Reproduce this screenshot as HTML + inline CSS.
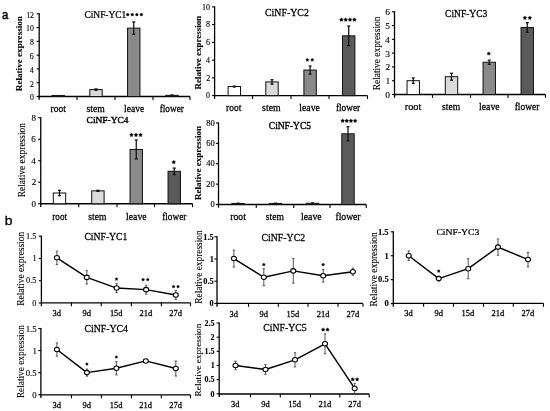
<!DOCTYPE html>
<html><head><meta charset="utf-8"><style>
html,body{margin:0;padding:0;background:#fff;width:550px;height:411px;overflow:hidden}
svg{display:block;font-family:"Liberation Serif",serif;will-change:transform}
</style></head><body>
<svg width="550" height="411" viewBox="0 0 550 411">
<rect width="550" height="411" fill="#fff"/>
<line x1="39.2" y1="13.2" x2="39.2" y2="99.7" stroke="#000" stroke-width="1.3"/>
<line x1="36.6" y1="96.5" x2="39.2" y2="96.5" stroke="#000" stroke-width="1.1"/>
<text font-family="Liberation Serif" font-weight="normal" font-size="100" fill="#000" stroke="#000" stroke-width="1.58" transform="matrix(0.07800,0.00000,0.00000,0.07400,29.91,100.23)">0</text>
<line x1="36.6" y1="82.72" x2="39.2" y2="82.72" stroke="#000" stroke-width="1.1"/>
<text font-family="Liberation Serif" font-weight="normal" font-size="100" fill="#000" stroke="#000" stroke-width="1.58" transform="matrix(0.07800,0.00000,0.00000,0.07400,30.07,86.52)">2</text>
<line x1="36.6" y1="68.93" x2="39.2" y2="68.93" stroke="#000" stroke-width="1.1"/>
<text font-family="Liberation Serif" font-weight="normal" font-size="100" fill="#000" stroke="#000" stroke-width="1.58" transform="matrix(0.07800,0.00000,0.00000,0.07400,29.76,72.74)">4</text>
<line x1="36.6" y1="55.15" x2="39.2" y2="55.15" stroke="#000" stroke-width="1.1"/>
<text font-family="Liberation Serif" font-weight="normal" font-size="100" fill="#000" stroke="#000" stroke-width="1.58" transform="matrix(0.07800,0.00000,0.00000,0.07400,29.83,58.88)">6</text>
<line x1="36.6" y1="41.37" x2="39.2" y2="41.37" stroke="#000" stroke-width="1.1"/>
<text font-family="Liberation Serif" font-weight="normal" font-size="100" fill="#000" stroke="#000" stroke-width="1.58" transform="matrix(0.07800,0.00000,0.00000,0.07400,29.91,45.1)">8</text>
<line x1="36.6" y1="27.58" x2="39.2" y2="27.58" stroke="#000" stroke-width="1.1"/>
<text font-family="Liberation Serif" font-weight="normal" font-size="100" fill="#000" stroke="#000" stroke-width="1.58" transform="matrix(0.07800,0.00000,0.00000,0.07400,26.01,31.35)">10</text>
<line x1="36.6" y1="13.8" x2="39.2" y2="13.8" stroke="#000" stroke-width="1.1"/>
<text font-family="Liberation Serif" font-weight="normal" font-size="100" fill="#000" stroke="#000" stroke-width="1.58" transform="matrix(0.07800,0.00000,0.00000,0.07400,26.17,17.64)">12</text>
<line x1="38.6" y1="96.5" x2="190" y2="96.5" stroke="#000" stroke-width="1.3"/>
<line x1="77" y1="96.5" x2="77" y2="99.9" stroke="#000" stroke-width="1.1"/>
<line x1="115" y1="96.5" x2="115" y2="99.9" stroke="#000" stroke-width="1.1"/>
<line x1="153" y1="96.5" x2="153" y2="99.9" stroke="#000" stroke-width="1.1"/>
<line x1="190" y1="96.5" x2="190" y2="99.9" stroke="#000" stroke-width="1.1"/>
<rect x="52" y="95.47" width="12.4" height="1.03" fill="#ffffff" stroke="#111" stroke-width="1"/>
<rect x="89.8" y="89.61" width="12.4" height="6.89" fill="#dadada" stroke="#111" stroke-width="1"/>
<line x1="96" y1="88.92" x2="96" y2="90.3" stroke="#111" stroke-width="1.25"/>
<line x1="94.5" y1="88.92" x2="97.5" y2="88.92" stroke="#111" stroke-width="1.25"/>
<line x1="94.5" y1="90.3" x2="97.5" y2="90.3" stroke="#111" stroke-width="1.25"/>
<rect x="127.55" y="28.13" width="12.4" height="68.37" fill="#8a8a8a" stroke="#111" stroke-width="1"/>
<line x1="133.75" y1="21.93" x2="133.75" y2="34.34" stroke="#111" stroke-width="1.25"/>
<line x1="132.25" y1="21.93" x2="135.25" y2="21.93" stroke="#111" stroke-width="1.25"/>
<line x1="132.25" y1="34.34" x2="135.25" y2="34.34" stroke="#111" stroke-width="1.25"/>
<rect x="165.8" y="95.33" width="12.4" height="1.17" fill="#5a5a5a" stroke="#111" stroke-width="1"/>
<line x1="172" y1="94.98" x2="172" y2="95.67" stroke="#111" stroke-width="1.25"/>
<line x1="170.5" y1="94.98" x2="173.5" y2="94.98" stroke="#111" stroke-width="1.25"/>
<line x1="170.5" y1="95.67" x2="173.5" y2="95.67" stroke="#111" stroke-width="1.25"/>
<text font-family="Liberation Serif" font-weight="normal" font-size="100" fill="#000" stroke="#000" stroke-width="2.65" transform="matrix(0.09447,0.00000,0.00000,0.09412,84.42,17.81)">CiNF-YC1</text>
<text font-family="Liberation Serif" font-weight="normal" font-size="100" fill="#000" stroke="#000" stroke-width="2.56" transform="matrix(0.09494,0.00000,0.00000,0.10000,50.51,111.8)">root</text>
<text font-family="Liberation Serif" font-weight="normal" font-size="100" fill="#000" stroke="#000" stroke-width="2.54" transform="matrix(0.09672,0.00000,0.00000,0.10000,86.61,111.8)">stem</text>
<text font-family="Liberation Serif" font-weight="normal" font-size="100" fill="#000" stroke="#000" stroke-width="2.56" transform="matrix(0.09512,0.00000,0.00000,0.10000,124.06,111.8)">leave</text>
<text font-family="Liberation Serif" font-weight="normal" font-size="100" fill="#000" stroke="#000" stroke-width="2.60" transform="matrix(0.09241,0.00000,0.00000,0.10000,159.72,111.8)">flower</text>
<text font-family="Liberation Serif" font-weight="bold" font-size="100" fill="#000" stroke="#000" stroke-width="1.09" transform="matrix(0,-0.09146,0.09146,0,21.8,91.18)">Relative expression</text>
<polygon points="127.71,12.95 128.31,13.82 129.33,14.12 128.69,14.97 128.71,16.03 127.71,15.67 126.72,16.03 126.74,14.97 126.1,14.12 127.12,13.82" fill="#000" stroke="#000" stroke-width="0.3" stroke-linejoin="round"/>
<polygon points="132.27,12.95 132.87,13.82 133.89,14.12 133.24,14.97 133.27,16.03 132.27,15.67 131.27,16.03 131.3,14.97 130.65,14.12 131.67,13.82" fill="#000" stroke="#000" stroke-width="0.3" stroke-linejoin="round"/>
<polygon points="136.83,12.95 137.43,13.82 138.45,14.12 137.8,14.97 137.83,16.03 136.83,15.67 135.83,16.03 135.86,14.97 135.21,14.12 136.23,13.82" fill="#000" stroke="#000" stroke-width="0.3" stroke-linejoin="round"/>
<polygon points="141.38,12.95 141.98,13.82 143,14.12 142.36,14.97 142.38,16.03 141.38,15.67 140.39,16.03 140.41,14.97 139.77,14.12 140.79,13.82" fill="#000" stroke="#000" stroke-width="0.3" stroke-linejoin="round"/>
<line x1="214.6" y1="6.3" x2="214.6" y2="98.8" stroke="#000" stroke-width="1.3"/>
<line x1="212" y1="95.6" x2="214.6" y2="95.6" stroke="#000" stroke-width="1.1"/>
<text font-family="Liberation Serif" font-weight="normal" font-size="100" fill="#000" stroke="#000" stroke-width="1.58" transform="matrix(0.08000,0.00000,0.00000,0.07200,206.12,98.27)">0</text>
<line x1="212" y1="77.86" x2="214.6" y2="77.86" stroke="#000" stroke-width="1.1"/>
<text font-family="Liberation Serif" font-weight="normal" font-size="100" fill="#000" stroke="#000" stroke-width="1.58" transform="matrix(0.08000,0.00000,0.00000,0.07200,206.28,80.6)">2</text>
<line x1="212" y1="60.12" x2="214.6" y2="60.12" stroke="#000" stroke-width="1.1"/>
<text font-family="Liberation Serif" font-weight="normal" font-size="100" fill="#000" stroke="#000" stroke-width="1.58" transform="matrix(0.08000,0.00000,0.00000,0.07200,205.96,62.86)">4</text>
<line x1="212" y1="42.38" x2="214.6" y2="42.38" stroke="#000" stroke-width="1.1"/>
<text font-family="Liberation Serif" font-weight="normal" font-size="100" fill="#000" stroke="#000" stroke-width="1.58" transform="matrix(0.08000,0.00000,0.00000,0.07200,206.04,45.05)">6</text>
<line x1="212" y1="24.64" x2="214.6" y2="24.64" stroke="#000" stroke-width="1.1"/>
<text font-family="Liberation Serif" font-weight="normal" font-size="100" fill="#000" stroke="#000" stroke-width="1.58" transform="matrix(0.08000,0.00000,0.00000,0.07200,206.12,27.31)">8</text>
<line x1="212" y1="6.9" x2="214.6" y2="6.9" stroke="#000" stroke-width="1.1"/>
<text font-family="Liberation Serif" font-weight="normal" font-size="100" fill="#000" stroke="#000" stroke-width="1.58" transform="matrix(0.08000,0.00000,0.00000,0.07200,202.12,9.6)">10</text>
<line x1="214" y1="95.6" x2="367.5" y2="95.6" stroke="#000" stroke-width="1.3"/>
<line x1="252.6" y1="95.6" x2="252.6" y2="99" stroke="#000" stroke-width="1.1"/>
<line x1="291" y1="95.6" x2="291" y2="99" stroke="#000" stroke-width="1.1"/>
<line x1="329" y1="95.6" x2="329" y2="99" stroke="#000" stroke-width="1.1"/>
<line x1="367.5" y1="95.6" x2="367.5" y2="99" stroke="#000" stroke-width="1.1"/>
<rect x="228.1" y="86.55" width="12.4" height="9.05" fill="#ffffff" stroke="#111" stroke-width="1"/>
<line x1="234.3" y1="86.11" x2="234.3" y2="87" stroke="#111" stroke-width="1.25"/>
<line x1="232.8" y1="86.11" x2="235.8" y2="86.11" stroke="#111" stroke-width="1.25"/>
<line x1="232.8" y1="87" x2="235.8" y2="87" stroke="#111" stroke-width="1.25"/>
<rect x="265.8" y="81.94" width="12.4" height="13.66" fill="#dadada" stroke="#111" stroke-width="1"/>
<line x1="272" y1="79.72" x2="272" y2="84.16" stroke="#111" stroke-width="1.25"/>
<line x1="270.5" y1="79.72" x2="273.5" y2="79.72" stroke="#111" stroke-width="1.25"/>
<line x1="270.5" y1="84.16" x2="273.5" y2="84.16" stroke="#111" stroke-width="1.25"/>
<rect x="303.9" y="70.05" width="12.4" height="25.55" fill="#8a8a8a" stroke="#111" stroke-width="1"/>
<line x1="310.1" y1="66.06" x2="310.1" y2="74.05" stroke="#111" stroke-width="1.25"/>
<line x1="308.6" y1="66.06" x2="311.6" y2="66.06" stroke="#111" stroke-width="1.25"/>
<line x1="308.6" y1="74.05" x2="311.6" y2="74.05" stroke="#111" stroke-width="1.25"/>
<rect x="342.5" y="35.82" width="12.4" height="59.78" fill="#5a5a5a" stroke="#111" stroke-width="1"/>
<line x1="348.7" y1="26.06" x2="348.7" y2="45.57" stroke="#111" stroke-width="1.25"/>
<line x1="347.2" y1="26.06" x2="350.2" y2="26.06" stroke="#111" stroke-width="1.25"/>
<line x1="347.2" y1="45.57" x2="350.2" y2="45.57" stroke="#111" stroke-width="1.25"/>
<text font-family="Liberation Serif" font-weight="normal" font-size="100" fill="#000" stroke="#000" stroke-width="2.50" transform="matrix(0.09885,0.00000,0.00000,0.10149,265,16)">CiNF-YC2</text>
<text font-family="Liberation Serif" font-weight="normal" font-size="100" fill="#000" stroke="#000" stroke-width="2.56" transform="matrix(0.09494,0.00000,0.00000,0.10000,226.06,111.2)">root</text>
<text font-family="Liberation Serif" font-weight="normal" font-size="100" fill="#000" stroke="#000" stroke-width="2.52" transform="matrix(0.09836,0.00000,0.00000,0.10000,262.11,111.2)">stem</text>
<text font-family="Liberation Serif" font-weight="normal" font-size="100" fill="#000" stroke="#000" stroke-width="2.53" transform="matrix(0.09756,0.00000,0.00000,0.10000,299.3,111.2)">leave</text>
<text font-family="Liberation Serif" font-weight="normal" font-size="100" fill="#000" stroke="#000" stroke-width="2.60" transform="matrix(0.09241,0.00000,0.00000,0.10000,335.97,111.2)">flower</text>
<text font-family="Liberation Serif" font-weight="bold" font-size="100" fill="#000" stroke="#000" stroke-width="1.12" transform="matrix(0,-0.08939,0.08939,0,200.8,89.38)">Relative expression</text>
<polygon points="307.31,58.25 307.91,59.12 308.93,59.42 308.29,60.27 308.31,61.33 307.31,60.97 306.32,61.33 306.34,60.27 305.7,59.42 306.72,59.12" fill="#000" stroke="#000" stroke-width="0.3" stroke-linejoin="round"/>
<polygon points="312.28,58.25 312.88,59.12 313.9,59.42 313.26,60.27 313.28,61.33 312.28,60.97 311.29,61.33 311.31,60.27 310.67,59.42 311.69,59.12" fill="#000" stroke="#000" stroke-width="0.3" stroke-linejoin="round"/>
<polygon points="341.4,17.73 342.11,18.75 343.3,19.11 342.54,20.1 342.58,21.34 341.4,20.93 340.22,21.34 340.26,20.1 339.5,19.11 340.69,18.75" fill="#000" stroke="#000" stroke-width="0.3" stroke-linejoin="round"/>
<polygon points="345.72,17.73 346.42,18.75 347.62,19.11 346.86,20.1 346.89,21.34 345.72,20.93 344.54,21.34 344.58,20.1 343.81,19.11 345.01,18.75" fill="#000" stroke="#000" stroke-width="0.3" stroke-linejoin="round"/>
<polygon points="350.03,17.73 350.74,18.75 351.94,19.11 351.17,20.1 351.21,21.34 350.03,20.93 348.86,21.34 348.89,20.1 348.13,19.11 349.33,18.75" fill="#000" stroke="#000" stroke-width="0.3" stroke-linejoin="round"/>
<polygon points="354.35,17.73 355.06,18.75 356.25,19.11 355.49,20.1 355.53,21.34 354.35,20.93 353.17,21.34 353.21,20.1 352.45,19.11 353.64,18.75" fill="#000" stroke="#000" stroke-width="0.3" stroke-linejoin="round"/>
<line x1="394.5" y1="11.15" x2="394.5" y2="97.7" stroke="#000" stroke-width="1.3"/>
<line x1="391.9" y1="94.5" x2="394.5" y2="94.5" stroke="#000" stroke-width="1.1"/>
<text font-family="Liberation Serif" font-weight="normal" font-size="100" fill="#000" stroke="#000" stroke-width="1.44" transform="matrix(0.09500,0.00000,0.00000,0.07200,385.23,97.97)">0</text>
<line x1="391.9" y1="80.71" x2="394.5" y2="80.71" stroke="#000" stroke-width="1.1"/>
<text font-family="Liberation Serif" font-weight="normal" font-size="100" fill="#000" stroke="#000" stroke-width="1.44" transform="matrix(0.09500,0.00000,0.00000,0.07200,385.42,84.28)">1</text>
<line x1="391.9" y1="66.92" x2="394.5" y2="66.92" stroke="#000" stroke-width="1.1"/>
<text font-family="Liberation Serif" font-weight="normal" font-size="100" fill="#000" stroke="#000" stroke-width="1.44" transform="matrix(0.09500,0.00000,0.00000,0.07200,385.42,70.46)">2</text>
<line x1="391.9" y1="53.12" x2="394.5" y2="53.12" stroke="#000" stroke-width="1.1"/>
<text font-family="Liberation Serif" font-weight="normal" font-size="100" fill="#000" stroke="#000" stroke-width="1.44" transform="matrix(0.09500,0.00000,0.00000,0.07200,385.23,56.63)">3</text>
<line x1="391.9" y1="39.33" x2="394.5" y2="39.33" stroke="#000" stroke-width="1.1"/>
<text font-family="Liberation Serif" font-weight="normal" font-size="100" fill="#000" stroke="#000" stroke-width="1.44" transform="matrix(0.09500,0.00000,0.00000,0.07200,385.04,42.87)">4</text>
<line x1="391.9" y1="25.54" x2="394.5" y2="25.54" stroke="#000" stroke-width="1.1"/>
<text font-family="Liberation Serif" font-weight="normal" font-size="100" fill="#000" stroke="#000" stroke-width="1.44" transform="matrix(0.09500,0.00000,0.00000,0.07200,385.23,29.05)">5</text>
<line x1="391.9" y1="11.75" x2="394.5" y2="11.75" stroke="#000" stroke-width="1.1"/>
<text font-family="Liberation Serif" font-weight="normal" font-size="100" fill="#000" stroke="#000" stroke-width="1.44" transform="matrix(0.09500,0.00000,0.00000,0.07200,385.14,15.22)">6</text>
<line x1="393.9" y1="94.5" x2="545.5" y2="94.5" stroke="#000" stroke-width="1.3"/>
<line x1="432.5" y1="94.5" x2="432.5" y2="97.9" stroke="#000" stroke-width="1.1"/>
<line x1="470.5" y1="94.5" x2="470.5" y2="97.9" stroke="#000" stroke-width="1.1"/>
<line x1="508" y1="94.5" x2="508" y2="97.9" stroke="#000" stroke-width="1.1"/>
<line x1="545.5" y1="94.5" x2="545.5" y2="97.9" stroke="#000" stroke-width="1.1"/>
<rect x="407.05" y="80.71" width="12.4" height="13.79" fill="#ffffff" stroke="#111" stroke-width="1"/>
<line x1="413.25" y1="77.95" x2="413.25" y2="83.47" stroke="#111" stroke-width="1.25"/>
<line x1="411.75" y1="77.95" x2="414.75" y2="77.95" stroke="#111" stroke-width="1.25"/>
<line x1="411.75" y1="83.47" x2="414.75" y2="83.47" stroke="#111" stroke-width="1.25"/>
<rect x="445.3" y="76.71" width="12.4" height="17.79" fill="#dadada" stroke="#111" stroke-width="1"/>
<line x1="451.5" y1="73.26" x2="451.5" y2="80.16" stroke="#111" stroke-width="1.25"/>
<line x1="450" y1="73.26" x2="453" y2="73.26" stroke="#111" stroke-width="1.25"/>
<line x1="450" y1="80.16" x2="453" y2="80.16" stroke="#111" stroke-width="1.25"/>
<rect x="483.05" y="62.23" width="12.4" height="32.27" fill="#8a8a8a" stroke="#111" stroke-width="1"/>
<line x1="489.25" y1="60.16" x2="489.25" y2="64.3" stroke="#111" stroke-width="1.25"/>
<line x1="487.75" y1="60.16" x2="490.75" y2="60.16" stroke="#111" stroke-width="1.25"/>
<line x1="487.75" y1="64.3" x2="490.75" y2="64.3" stroke="#111" stroke-width="1.25"/>
<rect x="521.05" y="27.47" width="12.4" height="67.03" fill="#5a5a5a" stroke="#111" stroke-width="1"/>
<line x1="527.25" y1="22.65" x2="527.25" y2="32.3" stroke="#111" stroke-width="1.25"/>
<line x1="525.75" y1="22.65" x2="528.75" y2="22.65" stroke="#111" stroke-width="1.25"/>
<line x1="525.75" y1="32.3" x2="528.75" y2="32.3" stroke="#111" stroke-width="1.25"/>
<text font-family="Liberation Serif" font-weight="normal" font-size="100" fill="#000" stroke="#000" stroke-width="2.57" transform="matrix(0.09474,0.00000,0.00000,0.10000,445.12,16.7)">CiNF-YC3</text>
<text font-family="Liberation Serif" font-weight="normal" font-size="100" fill="#000" stroke="#000" stroke-width="2.46" transform="matrix(0.10285,0.00000,0.00000,0.10000,404.79,109.5)">root</text>
<text font-family="Liberation Serif" font-weight="normal" font-size="100" fill="#000" stroke="#000" stroke-width="2.56" transform="matrix(0.09563,0.00000,0.00000,0.10000,442.12,109.5)">stem</text>
<text font-family="Liberation Serif" font-weight="normal" font-size="100" fill="#000" stroke="#000" stroke-width="2.53" transform="matrix(0.09756,0.00000,0.00000,0.10000,479.05,109.5)">leave</text>
<text font-family="Liberation Serif" font-weight="normal" font-size="100" fill="#000" stroke="#000" stroke-width="2.57" transform="matrix(0.09436,0.00000,0.00000,0.10000,514.72,109.5)">flower</text>
<text font-family="Liberation Serif" font-weight="normal" font-size="100" fill="#000" stroke="#000" stroke-width="1.07" transform="matrix(0,-0.09385,0.09385,0,380,90.28)">Relative expression</text>
<polygon points="488.75,51.74 489.41,52.7 490.52,53.03 489.81,53.94 489.84,55.1 488.75,54.72 487.66,55.1 487.69,53.94 486.98,53.03 488.09,52.7" fill="#000" stroke="#000" stroke-width="0.3" stroke-linejoin="round"/>
<polygon points="524.9,15.85 525.61,16.88 526.8,17.23 526.04,18.22 526.08,19.47 524.9,19.05 523.72,19.47 523.76,18.22 523,17.23 524.19,16.88" fill="#000" stroke="#000" stroke-width="0.3" stroke-linejoin="round"/>
<polygon points="529.85,15.85 530.56,16.88 531.75,17.23 530.99,18.22 531.03,19.47 529.85,19.05 528.67,19.47 528.71,18.22 527.95,17.23 529.14,16.88" fill="#000" stroke="#000" stroke-width="0.3" stroke-linejoin="round"/>
<line x1="40.75" y1="117.15" x2="40.75" y2="206.95" stroke="#000" stroke-width="1.3"/>
<line x1="38.15" y1="203.75" x2="40.75" y2="203.75" stroke="#000" stroke-width="1.1"/>
<text font-family="Liberation Serif" font-weight="normal" font-size="100" fill="#000" stroke="#000" stroke-width="1.48" transform="matrix(0.09000,0.00000,0.00000,0.07200,31.46,206.72)">0</text>
<line x1="38.15" y1="182.25" x2="40.75" y2="182.25" stroke="#000" stroke-width="1.1"/>
<text font-family="Liberation Serif" font-weight="normal" font-size="100" fill="#000" stroke="#000" stroke-width="1.48" transform="matrix(0.09000,0.00000,0.00000,0.07200,31.64,185.29)">2</text>
<line x1="38.15" y1="160.75" x2="40.75" y2="160.75" stroke="#000" stroke-width="1.1"/>
<text font-family="Liberation Serif" font-weight="normal" font-size="100" fill="#000" stroke="#000" stroke-width="1.48" transform="matrix(0.09000,0.00000,0.00000,0.07200,31.28,163.79)">4</text>
<line x1="38.15" y1="139.25" x2="40.75" y2="139.25" stroke="#000" stroke-width="1.1"/>
<text font-family="Liberation Serif" font-weight="normal" font-size="100" fill="#000" stroke="#000" stroke-width="1.48" transform="matrix(0.09000,0.00000,0.00000,0.07200,31.37,142.22)">6</text>
<line x1="38.15" y1="117.75" x2="40.75" y2="117.75" stroke="#000" stroke-width="1.1"/>
<text font-family="Liberation Serif" font-weight="normal" font-size="100" fill="#000" stroke="#000" stroke-width="1.48" transform="matrix(0.09000,0.00000,0.00000,0.07200,31.46,120.72)">8</text>
<line x1="40.15" y1="203.75" x2="192.5" y2="203.75" stroke="#000" stroke-width="1.3"/>
<line x1="78.75" y1="203.75" x2="78.75" y2="207.15" stroke="#000" stroke-width="1.1"/>
<line x1="117" y1="203.75" x2="117" y2="207.15" stroke="#000" stroke-width="1.1"/>
<line x1="154.5" y1="203.75" x2="154.5" y2="207.15" stroke="#000" stroke-width="1.1"/>
<line x1="192.5" y1="203.75" x2="192.5" y2="207.15" stroke="#000" stroke-width="1.1"/>
<rect x="53.3" y="193" width="12.4" height="10.75" fill="#ffffff" stroke="#111" stroke-width="1"/>
<line x1="59.5" y1="190.31" x2="59.5" y2="195.69" stroke="#111" stroke-width="1.25"/>
<line x1="58" y1="190.31" x2="61" y2="190.31" stroke="#111" stroke-width="1.25"/>
<line x1="58" y1="195.69" x2="61" y2="195.69" stroke="#111" stroke-width="1.25"/>
<rect x="91.7" y="190.85" width="12.4" height="12.9" fill="#dadada" stroke="#111" stroke-width="1"/>
<line x1="97.9" y1="190.31" x2="97.9" y2="191.39" stroke="#111" stroke-width="1.25"/>
<line x1="96.4" y1="190.31" x2="99.4" y2="190.31" stroke="#111" stroke-width="1.25"/>
<line x1="96.4" y1="191.39" x2="99.4" y2="191.39" stroke="#111" stroke-width="1.25"/>
<rect x="130.05" y="149.46" width="12.4" height="54.29" fill="#8a8a8a" stroke="#111" stroke-width="1"/>
<line x1="136.25" y1="140" x2="136.25" y2="158.92" stroke="#111" stroke-width="1.25"/>
<line x1="134.75" y1="140" x2="137.75" y2="140" stroke="#111" stroke-width="1.25"/>
<line x1="134.75" y1="158.92" x2="137.75" y2="158.92" stroke="#111" stroke-width="1.25"/>
<rect x="168.05" y="171.28" width="12.4" height="32.47" fill="#5a5a5a" stroke="#111" stroke-width="1"/>
<line x1="174.25" y1="168.06" x2="174.25" y2="174.51" stroke="#111" stroke-width="1.25"/>
<line x1="172.75" y1="168.06" x2="175.75" y2="168.06" stroke="#111" stroke-width="1.25"/>
<line x1="172.75" y1="174.51" x2="175.75" y2="174.51" stroke="#111" stroke-width="1.25"/>
<text font-family="Liberation Serif" font-weight="normal" font-size="100" fill="#000" stroke="#000" stroke-width="4.31" transform="matrix(0.09453,0.00000,0.00000,0.09104,86.62,123.42)">CiNF-YC4</text>
<text font-family="Liberation Serif" font-weight="normal" font-size="100" fill="#000" stroke="#000" stroke-width="2.61" transform="matrix(0.09177,0.00000,0.00000,0.10000,52.32,220)">root</text>
<text font-family="Liberation Serif" font-weight="normal" font-size="100" fill="#000" stroke="#000" stroke-width="2.56" transform="matrix(0.09563,0.00000,0.00000,0.10000,88.37,220)">stem</text>
<text font-family="Liberation Serif" font-weight="normal" font-size="100" fill="#000" stroke="#000" stroke-width="2.53" transform="matrix(0.09756,0.00000,0.00000,0.10000,126.05,220)">leave</text>
<text font-family="Liberation Serif" font-weight="normal" font-size="100" fill="#000" stroke="#000" stroke-width="2.60" transform="matrix(0.09241,0.00000,0.00000,0.10000,162.22,220)">flower</text>
<text font-family="Liberation Serif" font-weight="normal" font-size="100" fill="#000" stroke="#000" stroke-width="1.06" transform="matrix(0,-0.09462,0.09462,0,25.4,197.28)">Relative expression</text>
<polygon points="131.4,132.95 132.11,133.98 133.3,134.33 132.54,135.32 132.58,136.57 131.4,136.15 130.22,136.57 130.26,135.32 129.5,134.33 130.69,133.98" fill="#000" stroke="#000" stroke-width="0.3" stroke-linejoin="round"/>
<polygon points="136,132.95 136.71,133.98 137.9,134.33 137.14,135.32 137.18,136.57 136,136.15 134.82,136.57 134.86,135.32 134.1,134.33 135.29,133.98" fill="#000" stroke="#000" stroke-width="0.3" stroke-linejoin="round"/>
<polygon points="140.6,132.95 141.31,133.98 142.5,134.33 141.74,135.32 141.78,136.57 140.6,136.15 139.42,136.57 139.46,135.32 138.7,134.33 139.89,133.98" fill="#000" stroke="#000" stroke-width="0.3" stroke-linejoin="round"/>
<polygon points="173.75,160.15 174.46,161.18 175.65,161.53 174.89,162.52 174.93,163.77 173.75,163.35 172.57,163.77 172.61,162.52 171.85,161.53 173.04,161.18" fill="#000" stroke="#000" stroke-width="0.3" stroke-linejoin="round"/>
<line x1="218.5" y1="122.4" x2="218.5" y2="207.7" stroke="#000" stroke-width="1.3"/>
<line x1="215.9" y1="204.5" x2="218.5" y2="204.5" stroke="#000" stroke-width="1.1"/>
<text font-family="Liberation Serif" font-weight="normal" font-size="100" fill="#000" stroke="#000" stroke-width="1.51" transform="matrix(0.08500,0.00000,0.00000,0.07400,210.39,207.13)">0</text>
<line x1="215.9" y1="184.12" x2="218.5" y2="184.12" stroke="#000" stroke-width="1.1"/>
<text font-family="Liberation Serif" font-weight="normal" font-size="100" fill="#000" stroke="#000" stroke-width="1.51" transform="matrix(0.08500,0.00000,0.00000,0.07400,206.14,186.76)">20</text>
<line x1="215.9" y1="163.75" x2="218.5" y2="163.75" stroke="#000" stroke-width="1.1"/>
<text font-family="Liberation Serif" font-weight="normal" font-size="100" fill="#000" stroke="#000" stroke-width="1.51" transform="matrix(0.08500,0.00000,0.00000,0.07400,206.14,166.38)">40</text>
<line x1="215.9" y1="143.38" x2="218.5" y2="143.38" stroke="#000" stroke-width="1.1"/>
<text font-family="Liberation Serif" font-weight="normal" font-size="100" fill="#000" stroke="#000" stroke-width="1.51" transform="matrix(0.08500,0.00000,0.00000,0.07400,206.14,146.01)">60</text>
<line x1="215.9" y1="123" x2="218.5" y2="123" stroke="#000" stroke-width="1.1"/>
<text font-family="Liberation Serif" font-weight="normal" font-size="100" fill="#000" stroke="#000" stroke-width="1.51" transform="matrix(0.08500,0.00000,0.00000,0.07400,206.14,125.63)">80</text>
<line x1="217.9" y1="204.5" x2="366.25" y2="204.5" stroke="#000" stroke-width="1.3"/>
<line x1="256.25" y1="204.5" x2="256.25" y2="207.9" stroke="#000" stroke-width="1.1"/>
<line x1="293.75" y1="204.5" x2="293.75" y2="207.9" stroke="#000" stroke-width="1.1"/>
<line x1="330" y1="204.5" x2="330" y2="207.9" stroke="#000" stroke-width="1.1"/>
<line x1="366.25" y1="204.5" x2="366.25" y2="207.9" stroke="#000" stroke-width="1.1"/>
<rect x="231.8" y="203.48" width="12.4" height="1.02" fill="#ffffff" stroke="#111" stroke-width="1"/>
<line x1="238" y1="203.18" x2="238" y2="203.79" stroke="#111" stroke-width="1.25"/>
<line x1="236.5" y1="203.18" x2="239.5" y2="203.18" stroke="#111" stroke-width="1.25"/>
<line x1="236.5" y1="203.79" x2="239.5" y2="203.79" stroke="#111" stroke-width="1.25"/>
<rect x="269.3" y="203.48" width="12.4" height="1.02" fill="#dadada" stroke="#111" stroke-width="1"/>
<line x1="275.5" y1="203.18" x2="275.5" y2="203.79" stroke="#111" stroke-width="1.25"/>
<line x1="274" y1="203.18" x2="277" y2="203.18" stroke="#111" stroke-width="1.25"/>
<line x1="274" y1="203.79" x2="277" y2="203.79" stroke="#111" stroke-width="1.25"/>
<rect x="306.3" y="203.28" width="12.4" height="1.22" fill="#8a8a8a" stroke="#111" stroke-width="1"/>
<line x1="312.5" y1="202.97" x2="312.5" y2="203.58" stroke="#111" stroke-width="1.25"/>
<line x1="311" y1="202.97" x2="314" y2="202.97" stroke="#111" stroke-width="1.25"/>
<line x1="311" y1="203.58" x2="314" y2="203.58" stroke="#111" stroke-width="1.25"/>
<rect x="341.8" y="133.8" width="12.4" height="70.7" fill="#5a5a5a" stroke="#111" stroke-width="1"/>
<line x1="348" y1="126.67" x2="348" y2="140.93" stroke="#111" stroke-width="1.25"/>
<line x1="346.5" y1="126.67" x2="349.5" y2="126.67" stroke="#111" stroke-width="1.25"/>
<line x1="346.5" y1="140.93" x2="349.5" y2="140.93" stroke="#111" stroke-width="1.25"/>
<text font-family="Liberation Serif" font-weight="normal" font-size="100" fill="#000" stroke="#000" stroke-width="3.62" transform="matrix(0.09497,0.00000,0.00000,0.09851,268.82,129.2)">CiNF-YC5</text>
<text font-family="Liberation Serif" font-weight="normal" font-size="100" fill="#000" stroke="#000" stroke-width="2.54" transform="matrix(0.09652,0.00000,0.00000,0.10000,230.31,220)">root</text>
<text font-family="Liberation Serif" font-weight="normal" font-size="100" fill="#000" stroke="#000" stroke-width="2.56" transform="matrix(0.09563,0.00000,0.00000,0.10000,265.87,220)">stem</text>
<text font-family="Liberation Serif" font-weight="normal" font-size="100" fill="#000" stroke="#000" stroke-width="2.53" transform="matrix(0.09756,0.00000,0.00000,0.10000,301.05,220)">leave</text>
<text font-family="Liberation Serif" font-weight="normal" font-size="100" fill="#000" stroke="#000" stroke-width="2.55" transform="matrix(0.09630,0.00000,0.00000,0.10000,335.46,220)">flower</text>
<text font-family="Liberation Serif" font-weight="bold" font-size="100" fill="#000" stroke="#000" stroke-width="1.11" transform="matrix(0,-0.09000,0.09000,0,201.4,199.98)">Relative expression</text>
<polygon points="342.65,118.85 343.36,119.88 344.55,120.23 343.79,121.22 343.83,122.47 342.65,122.05 341.47,122.47 341.51,121.22 340.75,120.23 341.94,119.88" fill="#000" stroke="#000" stroke-width="0.3" stroke-linejoin="round"/>
<polygon points="346.8,118.85 347.51,119.88 348.7,120.23 347.94,121.22 347.98,122.47 346.8,122.05 345.62,122.47 345.66,121.22 344.9,120.23 346.09,119.88" fill="#000" stroke="#000" stroke-width="0.3" stroke-linejoin="round"/>
<polygon points="350.95,118.85 351.66,119.88 352.85,120.23 352.09,121.22 352.13,122.47 350.95,122.05 349.77,122.47 349.81,121.22 349.05,120.23 350.24,119.88" fill="#000" stroke="#000" stroke-width="0.3" stroke-linejoin="round"/>
<polygon points="355.1,118.85 355.81,119.88 357,120.23 356.24,121.22 356.28,122.47 355.1,122.05 353.92,122.47 353.96,121.22 353.2,120.23 354.39,119.88" fill="#000" stroke="#000" stroke-width="0.3" stroke-linejoin="round"/>
<line x1="41.4" y1="235.6" x2="41.4" y2="306.2" stroke="#000" stroke-width="1.3"/>
<line x1="38.8" y1="303" x2="41.4" y2="303" stroke="#000" stroke-width="1.1"/>
<text font-family="Liberation Serif" font-weight="normal" font-size="100" fill="#000" stroke="#000" stroke-width="1.43" transform="matrix(0.08300,0.00000,0.00000,0.08500,32.28,305.68)">0</text>
<line x1="38.8" y1="280.73" x2="41.4" y2="280.73" stroke="#000" stroke-width="1.1"/>
<text font-family="Liberation Serif" font-weight="normal" font-size="100" fill="#000" stroke="#000" stroke-width="1.43" transform="matrix(0.08300,0.00000,0.00000,0.08500,26.06,283.41)">0.5</text>
<line x1="38.8" y1="258.47" x2="41.4" y2="258.47" stroke="#000" stroke-width="1.1"/>
<text font-family="Liberation Serif" font-weight="normal" font-size="100" fill="#000" stroke="#000" stroke-width="1.43" transform="matrix(0.08300,0.00000,0.00000,0.08500,32.45,261.27)">1</text>
<line x1="38.8" y1="236.2" x2="41.4" y2="236.2" stroke="#000" stroke-width="1.1"/>
<text font-family="Liberation Serif" font-weight="normal" font-size="100" fill="#000" stroke="#000" stroke-width="1.43" transform="matrix(0.08300,0.00000,0.00000,0.08500,26.06,238.96)">1.5</text>
<line x1="40.8" y1="302.8" x2="190.5" y2="302.8" stroke="#000" stroke-width="1.3"/>
<line x1="71.4" y1="302.8" x2="71.4" y2="306.2" stroke="#000" stroke-width="1.1"/>
<line x1="101.25" y1="302.8" x2="101.25" y2="306.2" stroke="#000" stroke-width="1.1"/>
<line x1="131.4" y1="302.8" x2="131.4" y2="306.2" stroke="#000" stroke-width="1.1"/>
<line x1="161.4" y1="302.8" x2="161.4" y2="306.2" stroke="#000" stroke-width="1.1"/>
<line x1="190.5" y1="302.8" x2="190.5" y2="306.2" stroke="#000" stroke-width="1.1"/>
<line x1="56.9" y1="251.12" x2="56.9" y2="264.48" stroke="#444" stroke-width="0.9"/>
<line x1="55.7" y1="251.12" x2="58.1" y2="251.12" stroke="#444" stroke-width="0.9"/>
<line x1="55.7" y1="264.48" x2="58.1" y2="264.48" stroke="#444" stroke-width="0.9"/>
<line x1="86.8" y1="270.71" x2="86.8" y2="284.07" stroke="#444" stroke-width="0.9"/>
<line x1="85.6" y1="270.71" x2="88" y2="270.71" stroke="#444" stroke-width="0.9"/>
<line x1="85.6" y1="284.07" x2="88" y2="284.07" stroke="#444" stroke-width="0.9"/>
<line x1="116.6" y1="283.63" x2="116.6" y2="292.53" stroke="#444" stroke-width="0.9"/>
<line x1="115.4" y1="283.63" x2="117.8" y2="283.63" stroke="#444" stroke-width="0.9"/>
<line x1="115.4" y1="292.53" x2="117.8" y2="292.53" stroke="#444" stroke-width="0.9"/>
<line x1="146.1" y1="285.19" x2="146.1" y2="294.09" stroke="#444" stroke-width="0.9"/>
<line x1="144.9" y1="285.19" x2="147.3" y2="285.19" stroke="#444" stroke-width="0.9"/>
<line x1="144.9" y1="294.09" x2="147.3" y2="294.09" stroke="#444" stroke-width="0.9"/>
<line x1="175.8" y1="290.53" x2="175.8" y2="299.44" stroke="#444" stroke-width="0.9"/>
<line x1="174.6" y1="290.53" x2="177" y2="290.53" stroke="#444" stroke-width="0.9"/>
<line x1="174.6" y1="299.44" x2="177" y2="299.44" stroke="#444" stroke-width="0.9"/>
<polyline points="56.9,257.8 86.8,277.39 116.6,288.08 146.1,289.64 175.8,294.98" fill="none" stroke="#000" stroke-width="1.45" stroke-linejoin="round"/>
<ellipse cx="56.9" cy="257.8" rx="2.5" ry="2.25" fill="#fff" stroke="#000" stroke-width="1.05"/>
<ellipse cx="86.8" cy="277.39" rx="2.5" ry="2.25" fill="#fff" stroke="#000" stroke-width="1.05"/>
<ellipse cx="116.6" cy="288.08" rx="2.5" ry="2.25" fill="#fff" stroke="#000" stroke-width="1.05"/>
<ellipse cx="146.1" cy="289.64" rx="2.5" ry="2.25" fill="#fff" stroke="#000" stroke-width="1.05"/>
<ellipse cx="175.8" cy="294.98" rx="2.5" ry="2.25" fill="#fff" stroke="#000" stroke-width="1.05"/>
<text font-family="Liberation Serif" font-weight="normal" font-size="100" fill="#000" stroke="#000" stroke-width="2.56" transform="matrix(0.09677,0.00000,0.00000,0.09853,84.41,239.9)">CiNF-YC1</text>
<text font-family="Liberation Serif" font-weight="normal" font-size="100" fill="#000" stroke="#000" stroke-width="2.89" transform="matrix(0.08500,0.00000,0.00000,0.08800,52.48,315.81)">3d</text>
<text font-family="Liberation Serif" font-weight="normal" font-size="100" fill="#000" stroke="#000" stroke-width="2.89" transform="matrix(0.08500,0.00000,0.00000,0.08800,82.47,315.81)">9d</text>
<text font-family="Liberation Serif" font-weight="normal" font-size="100" fill="#000" stroke="#000" stroke-width="2.89" transform="matrix(0.08500,0.00000,0.00000,0.08800,109.88,315.81)">15d</text>
<text font-family="Liberation Serif" font-weight="normal" font-size="100" fill="#000" stroke="#000" stroke-width="2.89" transform="matrix(0.08500,0.00000,0.00000,0.08800,139.6,315.81)">21d</text>
<text font-family="Liberation Serif" font-weight="normal" font-size="100" fill="#000" stroke="#000" stroke-width="2.89" transform="matrix(0.08500,0.00000,0.00000,0.08800,169.3,315.81)">27d</text>
<text font-family="Liberation Serif" font-weight="normal" font-size="100" fill="#000" stroke="#000" stroke-width="1.06" transform="matrix(0,-0.09424,0.09424,0,23.6,305.78)">Relative expression</text>
<polygon points="116.5,277.5 117.06,278.32 118.02,278.61 117.41,279.4 117.44,280.39 116.5,280.06 115.56,280.39 115.59,279.4 114.98,278.61 115.94,278.32" fill="#000" stroke="#000" stroke-width="0.3" stroke-linejoin="round"/>
<polygon points="143.12,278 143.68,278.82 144.64,279.11 144.03,279.9 144.06,280.89 143.12,280.56 142.18,280.89 142.21,279.9 141.6,279.11 142.56,278.82" fill="#000" stroke="#000" stroke-width="0.3" stroke-linejoin="round"/>
<polygon points="147.78,278 148.34,278.82 149.3,279.11 148.69,279.9 148.72,280.89 147.78,280.56 146.84,280.89 146.87,279.9 146.26,279.11 147.22,278.82" fill="#000" stroke="#000" stroke-width="0.3" stroke-linejoin="round"/>
<polygon points="173.52,285 174.08,285.82 175.04,286.11 174.43,286.9 174.46,287.89 173.52,287.56 172.58,287.89 172.61,286.9 172,286.11 172.96,285.82" fill="#000" stroke="#000" stroke-width="0.3" stroke-linejoin="round"/>
<polygon points="178.08,285 178.64,285.82 179.6,286.11 178.99,286.9 179.02,287.89 178.08,287.56 177.14,287.89 177.17,286.9 176.56,286.11 177.52,285.82" fill="#000" stroke="#000" stroke-width="0.3" stroke-linejoin="round"/>
<line x1="217" y1="236.15" x2="217" y2="306.7" stroke="#000" stroke-width="1.3"/>
<line x1="214.4" y1="303.5" x2="217" y2="303.5" stroke="#000" stroke-width="1.1"/>
<text font-family="Liberation Serif" font-weight="bold" font-size="100" fill="#000" stroke="#000" stroke-width="1.53" transform="matrix(0.08300,0.00000,0.00000,0.07400,209.58,306.33)">0</text>
<line x1="214.4" y1="281.25" x2="217" y2="281.25" stroke="#000" stroke-width="1.1"/>
<text font-family="Liberation Serif" font-weight="bold" font-size="100" fill="#000" stroke="#000" stroke-width="1.53" transform="matrix(0.08300,0.00000,0.00000,0.07400,203.36,284.08)">0.5</text>
<line x1="214.4" y1="259" x2="217" y2="259" stroke="#000" stroke-width="1.1"/>
<text font-family="Liberation Serif" font-weight="bold" font-size="100" fill="#000" stroke="#000" stroke-width="1.53" transform="matrix(0.08300,0.00000,0.00000,0.07400,209.67,261.94)">1</text>
<line x1="214.4" y1="236.75" x2="217" y2="236.75" stroke="#000" stroke-width="1.1"/>
<text font-family="Liberation Serif" font-weight="bold" font-size="100" fill="#000" stroke="#000" stroke-width="1.53" transform="matrix(0.08300,0.00000,0.00000,0.07400,203.36,239.65)">1.5</text>
<line x1="216.4" y1="303.4" x2="363" y2="303.4" stroke="#000" stroke-width="1.3"/>
<line x1="248.5" y1="303.4" x2="248.5" y2="306.8" stroke="#000" stroke-width="1.1"/>
<line x1="278.3" y1="303.4" x2="278.3" y2="306.8" stroke="#000" stroke-width="1.1"/>
<line x1="308" y1="303.4" x2="308" y2="306.8" stroke="#000" stroke-width="1.1"/>
<line x1="338" y1="303.4" x2="338" y2="306.8" stroke="#000" stroke-width="1.1"/>
<line x1="363" y1="303.4" x2="363" y2="306.8" stroke="#000" stroke-width="1.1"/>
<line x1="233.9" y1="250.1" x2="233.9" y2="267.01" stroke="#444" stroke-width="0.9"/>
<line x1="232.7" y1="250.1" x2="235.1" y2="250.1" stroke="#444" stroke-width="0.9"/>
<line x1="232.7" y1="267.01" x2="235.1" y2="267.01" stroke="#444" stroke-width="0.9"/>
<line x1="263.8" y1="268.79" x2="263.8" y2="285.7" stroke="#444" stroke-width="0.9"/>
<line x1="262.6" y1="268.79" x2="265" y2="268.79" stroke="#444" stroke-width="0.9"/>
<line x1="262.6" y1="285.7" x2="265" y2="285.7" stroke="#444" stroke-width="0.9"/>
<line x1="293.3" y1="258.64" x2="293.3" y2="283.12" stroke="#444" stroke-width="0.9"/>
<line x1="292.1" y1="258.64" x2="294.5" y2="258.64" stroke="#444" stroke-width="0.9"/>
<line x1="292.1" y1="283.12" x2="294.5" y2="283.12" stroke="#444" stroke-width="0.9"/>
<line x1="323.2" y1="269.59" x2="323.2" y2="282.05" stroke="#444" stroke-width="0.9"/>
<line x1="322" y1="269.59" x2="324.4" y2="269.59" stroke="#444" stroke-width="0.9"/>
<line x1="322" y1="282.05" x2="324.4" y2="282.05" stroke="#444" stroke-width="0.9"/>
<line x1="352.9" y1="268.12" x2="352.9" y2="275.24" stroke="#444" stroke-width="0.9"/>
<line x1="351.7" y1="268.12" x2="354.1" y2="268.12" stroke="#444" stroke-width="0.9"/>
<line x1="351.7" y1="275.24" x2="354.1" y2="275.24" stroke="#444" stroke-width="0.9"/>
<polyline points="233.9,258.56 263.8,277.25 293.3,270.88 323.2,275.82 352.9,271.68" fill="none" stroke="#000" stroke-width="1.45" stroke-linejoin="round"/>
<ellipse cx="233.9" cy="258.56" rx="2.5" ry="2.25" fill="#fff" stroke="#000" stroke-width="1.05"/>
<ellipse cx="263.8" cy="277.25" rx="2.5" ry="2.25" fill="#fff" stroke="#000" stroke-width="1.05"/>
<ellipse cx="293.3" cy="270.88" rx="2.5" ry="2.25" fill="#fff" stroke="#000" stroke-width="1.05"/>
<ellipse cx="323.2" cy="275.82" rx="2.5" ry="2.25" fill="#fff" stroke="#000" stroke-width="1.05"/>
<ellipse cx="352.9" cy="271.68" rx="2.5" ry="2.25" fill="#fff" stroke="#000" stroke-width="1.05"/>
<text font-family="Liberation Serif" font-weight="normal" font-size="100" fill="#000" stroke="#000" stroke-width="2.52" transform="matrix(0.09816,0.00000,0.00000,0.10000,261.51,241)">CiNF-YC2</text>
<text font-family="Liberation Serif" font-weight="normal" font-size="100" fill="#000" stroke="#000" stroke-width="2.89" transform="matrix(0.08500,0.00000,0.00000,0.08800,229.48,316.91)">3d</text>
<text font-family="Liberation Serif" font-weight="normal" font-size="100" fill="#000" stroke="#000" stroke-width="2.89" transform="matrix(0.08500,0.00000,0.00000,0.08800,259.47,316.91)">9d</text>
<text font-family="Liberation Serif" font-weight="normal" font-size="100" fill="#000" stroke="#000" stroke-width="2.89" transform="matrix(0.08500,0.00000,0.00000,0.08800,286.59,316.91)">15d</text>
<text font-family="Liberation Serif" font-weight="normal" font-size="100" fill="#000" stroke="#000" stroke-width="2.89" transform="matrix(0.08500,0.00000,0.00000,0.08800,316.7,316.91)">21d</text>
<text font-family="Liberation Serif" font-weight="normal" font-size="100" fill="#000" stroke="#000" stroke-width="2.89" transform="matrix(0.08500,0.00000,0.00000,0.08800,346.4,316.91)">27d</text>
<text font-family="Liberation Serif" font-weight="normal" font-size="100" fill="#000" stroke="#000" stroke-width="1.07" transform="matrix(0,-0.09334,0.09334,0,201.7,303.68)">Relative expression</text>
<polygon points="263.8,263 264.36,263.82 265.32,264.11 264.71,264.9 264.74,265.89 263.8,265.56 262.86,265.89 262.89,264.9 262.28,264.11 263.24,263.82" fill="#000" stroke="#000" stroke-width="0.3" stroke-linejoin="round"/>
<polygon points="323.1,263 323.66,263.82 324.62,264.11 324.01,264.9 324.04,265.89 323.1,265.56 322.16,265.89 322.19,264.9 321.58,264.11 322.54,263.82" fill="#000" stroke="#000" stroke-width="0.3" stroke-linejoin="round"/>
<line x1="393.3" y1="231.2" x2="393.3" y2="306.8" stroke="#000" stroke-width="1.3"/>
<line x1="390.7" y1="303.6" x2="393.3" y2="303.6" stroke="#000" stroke-width="1.1"/>
<text font-family="Liberation Serif" font-weight="bold" font-size="100" fill="#000" stroke="#000" stroke-width="1.49" transform="matrix(0.08500,0.00000,0.00000,0.07600,384.39,306.29)">0</text>
<line x1="390.7" y1="279.67" x2="393.3" y2="279.67" stroke="#000" stroke-width="1.1"/>
<text font-family="Liberation Serif" font-weight="bold" font-size="100" fill="#000" stroke="#000" stroke-width="1.49" transform="matrix(0.08500,0.00000,0.00000,0.07600,378.02,282.36)">0.5</text>
<line x1="390.7" y1="255.73" x2="393.3" y2="255.73" stroke="#000" stroke-width="1.1"/>
<text font-family="Liberation Serif" font-weight="bold" font-size="100" fill="#000" stroke="#000" stroke-width="1.49" transform="matrix(0.08500,0.00000,0.00000,0.07600,384.48,258.54)">1</text>
<line x1="390.7" y1="231.8" x2="393.3" y2="231.8" stroke="#000" stroke-width="1.1"/>
<text font-family="Liberation Serif" font-weight="bold" font-size="100" fill="#000" stroke="#000" stroke-width="1.49" transform="matrix(0.08500,0.00000,0.00000,0.07600,378.01,234.57)">1.5</text>
<line x1="392.7" y1="303.4" x2="543.5" y2="303.4" stroke="#000" stroke-width="1.3"/>
<line x1="423.6" y1="303.4" x2="423.6" y2="306.8" stroke="#000" stroke-width="1.1"/>
<line x1="453.5" y1="303.4" x2="453.5" y2="306.8" stroke="#000" stroke-width="1.1"/>
<line x1="483.5" y1="303.4" x2="483.5" y2="306.8" stroke="#000" stroke-width="1.1"/>
<line x1="513.3" y1="303.4" x2="513.3" y2="306.8" stroke="#000" stroke-width="1.1"/>
<line x1="543.5" y1="303.4" x2="543.5" y2="306.8" stroke="#000" stroke-width="1.1"/>
<line x1="408.75" y1="250.95" x2="408.75" y2="260.52" stroke="#444" stroke-width="0.9"/>
<line x1="407.55" y1="250.95" x2="409.95" y2="250.95" stroke="#444" stroke-width="0.9"/>
<line x1="407.55" y1="260.52" x2="409.95" y2="260.52" stroke="#444" stroke-width="0.9"/>
<line x1="438.75" y1="276.22" x2="438.75" y2="281.01" stroke="#444" stroke-width="0.9"/>
<line x1="437.55" y1="276.22" x2="439.95" y2="276.22" stroke="#444" stroke-width="0.9"/>
<line x1="437.55" y1="281.01" x2="439.95" y2="281.01" stroke="#444" stroke-width="0.9"/>
<line x1="468.2" y1="258.61" x2="468.2" y2="278.71" stroke="#444" stroke-width="0.9"/>
<line x1="467" y1="258.61" x2="469.4" y2="258.61" stroke="#444" stroke-width="0.9"/>
<line x1="467" y1="278.71" x2="469.4" y2="278.71" stroke="#444" stroke-width="0.9"/>
<line x1="498" y1="238.98" x2="498" y2="255.25" stroke="#444" stroke-width="0.9"/>
<line x1="496.8" y1="238.98" x2="499.2" y2="238.98" stroke="#444" stroke-width="0.9"/>
<line x1="496.8" y1="255.25" x2="499.2" y2="255.25" stroke="#444" stroke-width="0.9"/>
<line x1="528" y1="252.38" x2="528" y2="266.74" stroke="#444" stroke-width="0.9"/>
<line x1="526.8" y1="252.38" x2="529.2" y2="252.38" stroke="#444" stroke-width="0.9"/>
<line x1="526.8" y1="266.74" x2="529.2" y2="266.74" stroke="#444" stroke-width="0.9"/>
<polyline points="408.75,255.73 438.75,278.61 468.2,268.66 498,247.12 528,259.56" fill="none" stroke="#000" stroke-width="1.45" stroke-linejoin="round"/>
<ellipse cx="408.75" cy="255.73" rx="2.5" ry="2.25" fill="#fff" stroke="#000" stroke-width="1.05"/>
<ellipse cx="438.75" cy="278.61" rx="2.5" ry="2.25" fill="#fff" stroke="#000" stroke-width="1.05"/>
<ellipse cx="468.2" cy="268.66" rx="2.5" ry="2.25" fill="#fff" stroke="#000" stroke-width="1.05"/>
<ellipse cx="498" cy="247.12" rx="2.5" ry="2.25" fill="#fff" stroke="#000" stroke-width="1.05"/>
<ellipse cx="528" cy="259.56" rx="2.5" ry="2.25" fill="#fff" stroke="#000" stroke-width="1.05"/>
<text font-family="Liberation Serif" font-weight="normal" font-size="100" fill="#000" stroke="#000" stroke-width="2.64" transform="matrix(0.09680,0.00000,0.00000,0.09254,436.41,235.31)">CiNF-YC3</text>
<text font-family="Liberation Serif" font-weight="normal" font-size="100" fill="#000" stroke="#000" stroke-width="2.89" transform="matrix(0.08500,0.00000,0.00000,0.08800,404.33,316.31)">3d</text>
<text font-family="Liberation Serif" font-weight="normal" font-size="100" fill="#000" stroke="#000" stroke-width="2.89" transform="matrix(0.08500,0.00000,0.00000,0.08800,434.42,316.31)">9d</text>
<text font-family="Liberation Serif" font-weight="normal" font-size="100" fill="#000" stroke="#000" stroke-width="2.89" transform="matrix(0.08500,0.00000,0.00000,0.08800,461.49,316.31)">15d</text>
<text font-family="Liberation Serif" font-weight="normal" font-size="100" fill="#000" stroke="#000" stroke-width="2.89" transform="matrix(0.08500,0.00000,0.00000,0.08800,491.5,316.31)">21d</text>
<text font-family="Liberation Serif" font-weight="normal" font-size="100" fill="#000" stroke="#000" stroke-width="2.89" transform="matrix(0.08500,0.00000,0.00000,0.08800,521.5,316.31)">27d</text>
<text font-family="Liberation Serif" font-weight="normal" font-size="100" fill="#000" stroke="#000" stroke-width="1.06" transform="matrix(0,-0.09449,0.09449,0,376.8,306.48)">Relative expression</text>
<polygon points="438.7,269.5 439.26,270.32 440.22,270.61 439.61,271.4 439.64,272.39 438.7,272.06 437.76,272.39 437.79,271.4 437.18,270.61 438.14,270.32" fill="#000" stroke="#000" stroke-width="0.3" stroke-linejoin="round"/>
<line x1="40.9" y1="327.9" x2="40.9" y2="397.95" stroke="#000" stroke-width="1.3"/>
<line x1="38.3" y1="394.75" x2="40.9" y2="394.75" stroke="#000" stroke-width="1.1"/>
<text font-family="Liberation Serif" font-weight="normal" font-size="100" fill="#000" stroke="#000" stroke-width="1.47" transform="matrix(0.08800,0.00000,0.00000,0.07500,32.25,397.81)">0</text>
<line x1="38.3" y1="372.67" x2="40.9" y2="372.67" stroke="#000" stroke-width="1.1"/>
<text font-family="Liberation Serif" font-weight="normal" font-size="100" fill="#000" stroke="#000" stroke-width="1.47" transform="matrix(0.08800,0.00000,0.00000,0.07500,25.65,375.73)">0.5</text>
<line x1="38.3" y1="350.58" x2="40.9" y2="350.58" stroke="#000" stroke-width="1.1"/>
<text font-family="Liberation Serif" font-weight="normal" font-size="100" fill="#000" stroke="#000" stroke-width="1.47" transform="matrix(0.08800,0.00000,0.00000,0.07500,32.43,353.76)">1</text>
<line x1="38.3" y1="328.5" x2="40.9" y2="328.5" stroke="#000" stroke-width="1.1"/>
<text font-family="Liberation Serif" font-weight="normal" font-size="100" fill="#000" stroke="#000" stroke-width="1.47" transform="matrix(0.08800,0.00000,0.00000,0.07500,25.65,331.64)">1.5</text>
<line x1="40.3" y1="394.9" x2="190.5" y2="394.9" stroke="#000" stroke-width="1.3"/>
<line x1="71.5" y1="394.9" x2="71.5" y2="398.3" stroke="#000" stroke-width="1.1"/>
<line x1="101.4" y1="394.9" x2="101.4" y2="398.3" stroke="#000" stroke-width="1.1"/>
<line x1="131.4" y1="394.9" x2="131.4" y2="398.3" stroke="#000" stroke-width="1.1"/>
<line x1="161.3" y1="394.9" x2="161.3" y2="398.3" stroke="#000" stroke-width="1.1"/>
<line x1="190.5" y1="394.9" x2="190.5" y2="398.3" stroke="#000" stroke-width="1.1"/>
<line x1="56.9" y1="342.9" x2="56.9" y2="356.15" stroke="#444" stroke-width="0.9"/>
<line x1="55.7" y1="342.9" x2="58.1" y2="342.9" stroke="#444" stroke-width="0.9"/>
<line x1="55.7" y1="356.15" x2="58.1" y2="356.15" stroke="#444" stroke-width="0.9"/>
<line x1="86.9" y1="369.09" x2="86.9" y2="376.16" stroke="#444" stroke-width="0.9"/>
<line x1="85.7" y1="369.09" x2="88.1" y2="369.09" stroke="#444" stroke-width="0.9"/>
<line x1="85.7" y1="376.16" x2="88.1" y2="376.16" stroke="#444" stroke-width="0.9"/>
<line x1="116.4" y1="361.67" x2="116.4" y2="374.92" stroke="#444" stroke-width="0.9"/>
<line x1="115.2" y1="361.67" x2="117.6" y2="361.67" stroke="#444" stroke-width="0.9"/>
<line x1="115.2" y1="374.92" x2="117.6" y2="374.92" stroke="#444" stroke-width="0.9"/>
<line x1="145.8" y1="359.59" x2="145.8" y2="362.24" stroke="#444" stroke-width="0.9"/>
<line x1="144.6" y1="359.59" x2="147" y2="359.59" stroke="#444" stroke-width="0.9"/>
<line x1="144.6" y1="362.24" x2="147" y2="362.24" stroke="#444" stroke-width="0.9"/>
<line x1="175.8" y1="361.01" x2="175.8" y2="376.02" stroke="#444" stroke-width="0.9"/>
<line x1="174.6" y1="361.01" x2="177" y2="361.01" stroke="#444" stroke-width="0.9"/>
<line x1="174.6" y1="376.02" x2="177" y2="376.02" stroke="#444" stroke-width="0.9"/>
<polyline points="56.9,349.52 86.9,372.62 116.4,368.29 145.8,360.92 175.8,368.51" fill="none" stroke="#000" stroke-width="1.45" stroke-linejoin="round"/>
<ellipse cx="56.9" cy="349.52" rx="2.5" ry="2.25" fill="#fff" stroke="#000" stroke-width="1.05"/>
<ellipse cx="86.9" cy="372.62" rx="2.5" ry="2.25" fill="#fff" stroke="#000" stroke-width="1.05"/>
<ellipse cx="116.4" cy="368.29" rx="2.5" ry="2.25" fill="#fff" stroke="#000" stroke-width="1.05"/>
<ellipse cx="145.8" cy="360.92" rx="2.5" ry="2.25" fill="#fff" stroke="#000" stroke-width="1.05"/>
<ellipse cx="175.8" cy="368.51" rx="2.5" ry="2.25" fill="#fff" stroke="#000" stroke-width="1.05"/>
<text font-family="Liberation Serif" font-weight="normal" font-size="100" fill="#000" stroke="#000" stroke-width="2.47" transform="matrix(0.09795,0.00000,0.00000,0.10448,84.41,332.19)">CiNF-YC4</text>
<text font-family="Liberation Serif" font-weight="normal" font-size="100" fill="#000" stroke="#000" stroke-width="2.89" transform="matrix(0.08500,0.00000,0.00000,0.08800,52.48,408.41)">3d</text>
<text font-family="Liberation Serif" font-weight="normal" font-size="100" fill="#000" stroke="#000" stroke-width="2.89" transform="matrix(0.08500,0.00000,0.00000,0.08800,82.57,408.41)">9d</text>
<text font-family="Liberation Serif" font-weight="normal" font-size="100" fill="#000" stroke="#000" stroke-width="2.89" transform="matrix(0.08500,0.00000,0.00000,0.08800,109.69,408.41)">15d</text>
<text font-family="Liberation Serif" font-weight="normal" font-size="100" fill="#000" stroke="#000" stroke-width="2.89" transform="matrix(0.08500,0.00000,0.00000,0.08800,139.3,408.41)">21d</text>
<text font-family="Liberation Serif" font-weight="normal" font-size="100" fill="#000" stroke="#000" stroke-width="2.89" transform="matrix(0.08500,0.00000,0.00000,0.08800,169.3,408.41)">27d</text>
<text font-family="Liberation Serif" font-weight="normal" font-size="100" fill="#000" stroke="#000" stroke-width="1.07" transform="matrix(0,-0.09309,0.09309,0,23.8,398.08)">Relative expression</text>
<polygon points="86.9,362.6 87.43,363.37 88.33,363.64 87.76,364.38 87.78,365.31 86.9,365 86.02,365.31 86.04,364.38 85.47,363.64 86.37,363.37" fill="#000" stroke="#000" stroke-width="0.3" stroke-linejoin="round"/>
<polygon points="116.4,355.6 116.93,356.37 117.83,356.64 117.26,357.38 117.28,358.31 116.4,358 115.52,358.31 115.54,357.38 114.97,356.64 115.87,356.37" fill="#000" stroke="#000" stroke-width="0.3" stroke-linejoin="round"/>
<line x1="219.2" y1="322.4" x2="219.2" y2="397" stroke="#000" stroke-width="1.3"/>
<line x1="216.6" y1="393.8" x2="219.2" y2="393.8" stroke="#000" stroke-width="1.1"/>
<text font-family="Liberation Serif" font-weight="bold" font-size="100" fill="#000" stroke="#000" stroke-width="1.56" transform="matrix(0.08000,0.00000,0.00000,0.07400,210.62,396.63)">0</text>
<line x1="216.6" y1="379.64" x2="219.2" y2="379.64" stroke="#000" stroke-width="1.1"/>
<text font-family="Liberation Serif" font-weight="bold" font-size="100" fill="#000" stroke="#000" stroke-width="1.56" transform="matrix(0.08000,0.00000,0.00000,0.07400,204.62,382.47)">0.5</text>
<line x1="216.6" y1="365.48" x2="219.2" y2="365.48" stroke="#000" stroke-width="1.1"/>
<text font-family="Liberation Serif" font-weight="bold" font-size="100" fill="#000" stroke="#000" stroke-width="1.56" transform="matrix(0.08000,0.00000,0.00000,0.07400,210.7,368.42)">1</text>
<line x1="216.6" y1="351.32" x2="219.2" y2="351.32" stroke="#000" stroke-width="1.1"/>
<text font-family="Liberation Serif" font-weight="bold" font-size="100" fill="#000" stroke="#000" stroke-width="1.56" transform="matrix(0.08000,0.00000,0.00000,0.07400,204.62,354.23)">1.5</text>
<line x1="216.6" y1="337.16" x2="219.2" y2="337.16" stroke="#000" stroke-width="1.1"/>
<text font-family="Liberation Serif" font-weight="bold" font-size="100" fill="#000" stroke="#000" stroke-width="1.56" transform="matrix(0.08000,0.00000,0.00000,0.07400,210.62,340.03)">2</text>
<line x1="216.6" y1="323" x2="219.2" y2="323" stroke="#000" stroke-width="1.1"/>
<text font-family="Liberation Serif" font-weight="bold" font-size="100" fill="#000" stroke="#000" stroke-width="1.56" transform="matrix(0.08000,0.00000,0.00000,0.07400,204.62,325.87)">2.5</text>
<line x1="218.6" y1="394" x2="369.2" y2="394" stroke="#000" stroke-width="1.3"/>
<line x1="250.5" y1="394" x2="250.5" y2="397.4" stroke="#000" stroke-width="1.1"/>
<line x1="280.3" y1="394" x2="280.3" y2="397.4" stroke="#000" stroke-width="1.1"/>
<line x1="310.5" y1="394" x2="310.5" y2="397.4" stroke="#000" stroke-width="1.1"/>
<line x1="339.8" y1="394" x2="339.8" y2="397.4" stroke="#000" stroke-width="1.1"/>
<line x1="369.2" y1="394" x2="369.2" y2="397.4" stroke="#000" stroke-width="1.1"/>
<line x1="235.5" y1="361.23" x2="235.5" y2="369.73" stroke="#444" stroke-width="0.9"/>
<line x1="234.3" y1="361.23" x2="236.7" y2="361.23" stroke="#444" stroke-width="0.9"/>
<line x1="234.3" y1="369.73" x2="236.7" y2="369.73" stroke="#444" stroke-width="0.9"/>
<line x1="265.5" y1="364.63" x2="265.5" y2="374.26" stroke="#444" stroke-width="0.9"/>
<line x1="264.3" y1="364.63" x2="266.7" y2="364.63" stroke="#444" stroke-width="0.9"/>
<line x1="264.3" y1="374.26" x2="266.7" y2="374.26" stroke="#444" stroke-width="0.9"/>
<line x1="295" y1="352.74" x2="295" y2="366.9" stroke="#444" stroke-width="0.9"/>
<line x1="293.8" y1="352.74" x2="296.2" y2="352.74" stroke="#444" stroke-width="0.9"/>
<line x1="293.8" y1="366.9" x2="296.2" y2="366.9" stroke="#444" stroke-width="0.9"/>
<line x1="325" y1="333.9" x2="325" y2="353.73" stroke="#444" stroke-width="0.9"/>
<line x1="323.8" y1="333.9" x2="326.2" y2="333.9" stroke="#444" stroke-width="0.9"/>
<line x1="323.8" y1="353.73" x2="326.2" y2="353.73" stroke="#444" stroke-width="0.9"/>
<line x1="354.7" y1="383.32" x2="354.7" y2="393.52" stroke="#444" stroke-width="0.9"/>
<line x1="353.5" y1="383.32" x2="355.9" y2="383.32" stroke="#444" stroke-width="0.9"/>
<line x1="353.5" y1="393.52" x2="355.9" y2="393.52" stroke="#444" stroke-width="0.9"/>
<polyline points="235.5,365.48 265.5,369.44 295,359.82 325,343.82 354.7,388.42" fill="none" stroke="#000" stroke-width="1.45" stroke-linejoin="round"/>
<ellipse cx="235.5" cy="365.48" rx="2.5" ry="2.25" fill="#fff" stroke="#000" stroke-width="1.05"/>
<ellipse cx="265.5" cy="369.44" rx="2.5" ry="2.25" fill="#fff" stroke="#000" stroke-width="1.05"/>
<ellipse cx="295" cy="359.82" rx="2.5" ry="2.25" fill="#fff" stroke="#000" stroke-width="1.05"/>
<ellipse cx="325" cy="343.82" rx="2.5" ry="2.25" fill="#fff" stroke="#000" stroke-width="1.05"/>
<ellipse cx="354.7" cy="388.42" rx="2.5" ry="2.25" fill="#fff" stroke="#000" stroke-width="1.05"/>
<text font-family="Liberation Serif" font-weight="normal" font-size="100" fill="#000" stroke="#000" stroke-width="2.53" transform="matrix(0.09748,0.00000,0.00000,0.10000,263.31,330.9)">CiNF-YC5</text>
<text font-family="Liberation Serif" font-weight="normal" font-size="100" fill="#000" stroke="#000" stroke-width="2.89" transform="matrix(0.08500,0.00000,0.00000,0.08800,231.08,407.31)">3d</text>
<text font-family="Liberation Serif" font-weight="normal" font-size="100" fill="#000" stroke="#000" stroke-width="2.89" transform="matrix(0.08500,0.00000,0.00000,0.08800,261.17,407.31)">9d</text>
<text font-family="Liberation Serif" font-weight="normal" font-size="100" fill="#000" stroke="#000" stroke-width="2.89" transform="matrix(0.08500,0.00000,0.00000,0.08800,288.29,407.31)">15d</text>
<text font-family="Liberation Serif" font-weight="normal" font-size="100" fill="#000" stroke="#000" stroke-width="2.89" transform="matrix(0.08500,0.00000,0.00000,0.08800,318.5,407.31)">21d</text>
<text font-family="Liberation Serif" font-weight="normal" font-size="100" fill="#000" stroke="#000" stroke-width="2.89" transform="matrix(0.08500,0.00000,0.00000,0.08800,348.2,407.31)">27d</text>
<text font-family="Liberation Serif" font-weight="normal" font-size="100" fill="#000" stroke="#000" stroke-width="1.08" transform="matrix(0,-0.09257,0.09257,0,201.1,396.38)">Relative expression</text>
<polygon points="323.11,327.7 323.78,328.68 324.91,329.01 324.19,329.95 324.22,331.14 323.11,330.74 321.99,331.14 322.02,329.95 321.3,329.01 322.43,328.68" fill="#000" stroke="#000" stroke-width="0.3" stroke-linejoin="round"/>
<polygon points="327.5,327.7 328.17,328.68 329.3,329.01 328.58,329.95 328.61,331.14 327.5,330.74 326.38,331.14 326.41,329.95 325.69,329.01 326.82,328.68" fill="#000" stroke="#000" stroke-width="0.3" stroke-linejoin="round"/>
<polygon points="352.7,377.5 353.38,378.48 354.51,378.81 353.79,379.75 353.82,380.94 352.7,380.54 351.59,380.94 351.62,379.75 350.9,378.81 352.03,378.48" fill="#000" stroke="#000" stroke-width="0.3" stroke-linejoin="round"/>
<polygon points="357.09,377.5 357.77,378.48 358.9,378.81 358.18,379.75 358.21,380.94 357.09,380.54 355.98,380.94 356.01,379.75 355.29,378.81 356.42,378.48" fill="#000" stroke="#000" stroke-width="0.3" stroke-linejoin="round"/>
<text font-family="Liberation Sans" font-weight="normal" font-size="100" fill="#000" stroke="#000" stroke-width="3.80" transform="matrix(0.11346,0.00000,0.00000,0.12364,1.95,19.48)">a</text>
<text font-family="Liberation Sans" font-weight="normal" font-size="100" fill="#000" stroke="#000" stroke-width="2.29" transform="matrix(0.13864,0.00000,0.00000,0.12329,4.83,224.8)">b</text>
</svg>
</body></html>
